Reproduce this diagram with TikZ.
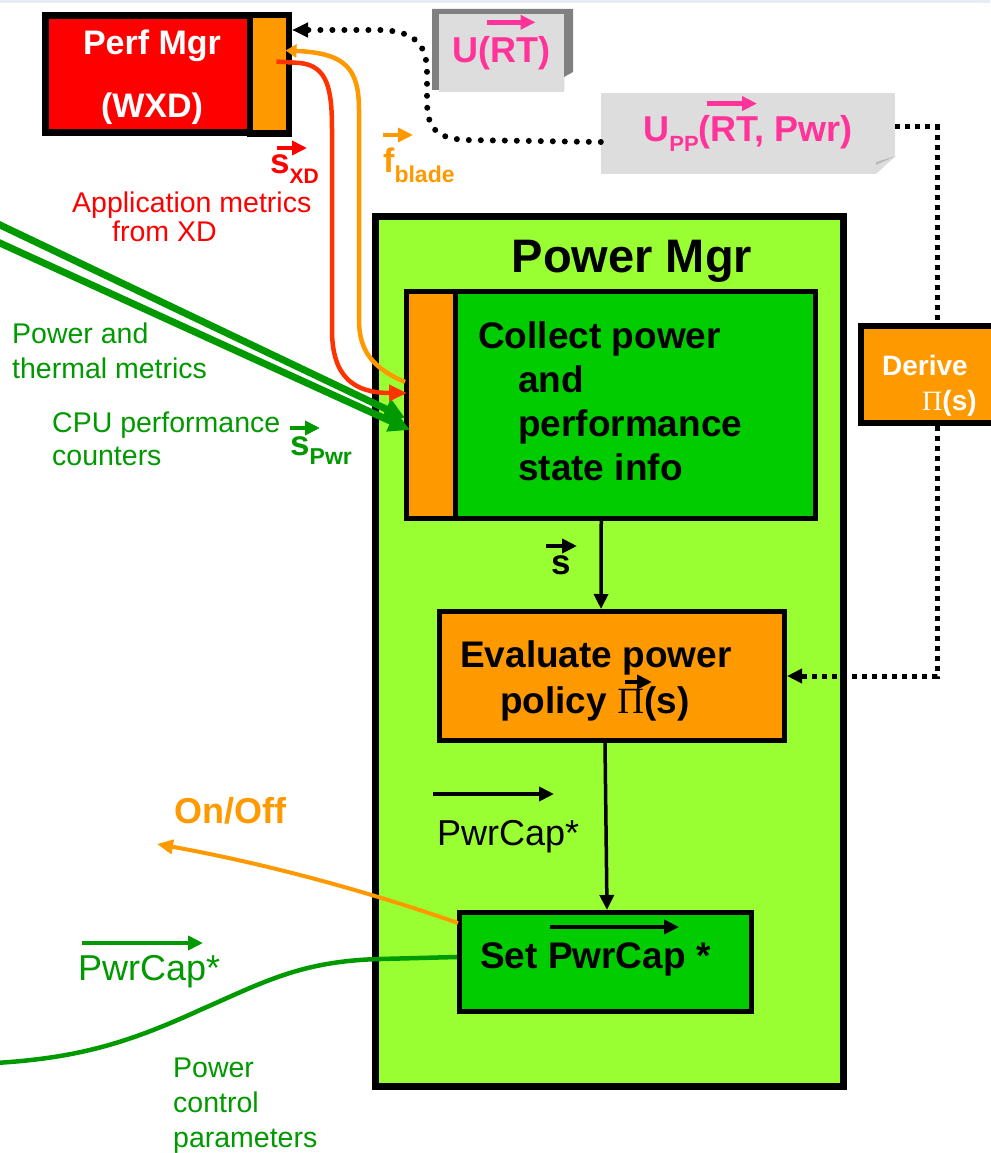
\documentclass[tikz,border=0pt]{standalone}
\usepackage{fontspec}
\setmainfont{Liberation Sans}
\newfontfamily\pifont{Liberation Serif}
\usetikzlibrary{arrows.meta}
\definecolor{perfred}{HTML}{FF0000}
\definecolor{xdred}{HTML}{FF3300}
\definecolor{mgrorange}{HTML}{FF9900}
\definecolor{mgrlime}{HTML}{99FF33}
\definecolor{boxgreen}{HTML}{00CC00}
\definecolor{metricgreen}{HTML}{009900}
\definecolor{utilpink}{HTML}{FF3399}
\definecolor{notegray}{HTML}{DDDDDD}
\definecolor{shadegray}{HTML}{808080}
\definecolor{slideedge}{HTML}{E8EAF4}
\begin{document}
\begin{tikzpicture}[x=1pt, y=-1pt, >={Triangle[length=15pt,width=14pt]},
    mgrbox/.style={draw, line width=7pt, inner sep=0pt},
    stage/.style={draw, line width=5pt, inner sep=0pt},
    boxtxt/.style={font=\fontsize{37}{44}\selectfont\bfseries, align=left, inner sep=0pt},
    note/.style={font=\fontsize{28.5}{35}\selectfont, align=left, inner sep=0pt},
    sym/.style={font=\bfseries, inner sep=0pt, anchor=base west},
    util/.style={fill=notegray, inner sep=0pt, text=utilpink, font=\fontsize{36}{36}\selectfont\bfseries},
    vec/.style={line width=4.5pt, ->},
    flow/.style={line width=3.5pt, ->},
    rounddots/.style={line width=6pt, line cap=round, dash pattern=on 0pt off 12pt},
    squaredots/.style={line width=5pt, dash pattern=on 5pt off 5pt}]
  % page and slide edge
  \fill[white] (0,0) rectangle (990,1153);
  \fill[slideedge] (0,0) rectangle (990,3);
  \useasboundingbox (0,0) rectangle (990,1153);

  % Perf Mgr
  \node[mgrbox, fill=perfred, minimum width=205pt, minimum height=117pt] (pm) at (148,74) {};
  \node[stage, line width=6pt, fill=mgrorange, minimum width=39pt, minimum height=118pt] (pmport) at (269.5,74.5) {};
  \node[anchor=north, align=center, inner sep=0pt, text=white,
        font=\fontsize{34}{63}\selectfont\bfseries] (pmtext) at (152,30) {Perf Mgr\\(WXD)};

  % utility functions
  \fill[shadegray] (432,9) -- (573,9) -- (573,72) -- (564,77) -- (564,90) -- (432,90) -- cycle;
  \node[util, minimum width=125pt, minimum height=78pt] (urt) at (501.5,53) {U(RT)};
  \node[util, minimum width=294pt, minimum height=81pt] (upp) at (748,133.5)
    {U\raisebox{-10pt}{\fontsize{22}{22}\selectfont PP}(RT, Pwr)};
  \fill[white] (875,175) -- (896,175) -- (896,156) -- cycle;
  \fill[gray!55] (896,156) -- (876,165) -- (876,162) -- cycle;
  \draw[vec, utilpink] ([shift={(-15,-40)}]urt.base) -- ++(49,0);
  \draw[vec, utilpink] ([shift={(-41,-38)}]upp.base) -- ++(50,0);

  % Power Mgr
  \node[mgrbox, fill=mgrlime, minimum width=468pt, minimum height=869.5pt] (pwrmgr) at (609.5,651.25) {};
  \node[anchor=base, inner sep=0pt, font=\fontsize{47}{47}\selectfont\bfseries] (pwrtitle) at (632,272) {Power Mgr};

  \node[stage, fill=mgrorange, minimum width=48.5pt, minimum height=227pt] (collectport) at (430.75,405) {};
  \node[stage, fill=boxgreen, minimum width=360.5pt, minimum height=227pt] (collect) at (635.25,405) {};
  \node[boxtxt, anchor=base west] (collecttxt) at (478,480)
    {Collect power\\\hspace*{40pt}and\\\hspace*{40pt}performance\\\hspace*{40pt}state info};

  \node[stage, fill=mgrorange, minimum width=345pt, minimum height=129pt] (evaluate) at (612,676) {};
  \node[boxtxt, anchor=base west, font=\fontsize{37}{46}\selectfont\bfseries] (evaltxt) at (460,713)
    {Evaluate power\\\hspace*{40pt}policy {\pifont\mdseries Π}(s)};
  \draw[vec] ([shift={(165,-31)}]evaltxt.base west) -- ++(27,0);

  \node[stage, fill=boxgreen, minimum width=292pt, minimum height=99pt] (setcap) at (605.5,962) {};
  \node[boxtxt, anchor=base west] (settxt) at (480,968) {Set PwrCap *};
  \draw[vec] ([shift={(70,-41)}]settxt.base west) -- ++(129,0);

  % Derive
  \node[mgrbox, line width=6pt, fill=mgrorange, minimum width=153pt, minimum height=97pt] (derive) at (937,374.5) {};
  \node[anchor=base west, align=left, inner sep=0pt, text=white,
        font=\fontsize{28}{35}\selectfont\bfseries] (derivetxt) at (882,410)
    {Derive\\\hspace*{40pt}{\pifont\mdseries Π}(s)};

  % labels
  \node[note, text=perfred, anchor=base west, font=\fontsize{28.5}{28.5}\selectfont] (appmetrics) at (72,241)
    {Application metrics\\\hspace*{40pt}from XD};
  \node[note, text=metricgreen, anchor=base west] (pwrmetrics) at (12,378) {Power and\\thermal metrics};
  \node[note, text=metricgreen, anchor=base west, font=\fontsize{28.5}{33}\selectfont] (cpumetrics) at (52,465)
    {CPU performance\\counters};
  \node[note, text=metricgreen, anchor=base west] (ctrlparams) at (173,1147) {Power\\control\\parameters};

  \node[sym, text=perfred] (sxd) at (270,173)
    {{\fontsize{35}{35}\selectfont s}\raisebox{-10pt}{\fontsize{21}{21}\selectfont XD}};
  \node[sym, text=mgrorange] (fblade) at (383,172)
    {{\fontsize{34}{34}\selectfont f}\raisebox{-10pt}{\fontsize{23}{23}\selectfont blade}};
  \node[sym, text=metricgreen] (spwr) at (290,455)
    {{\fontsize{35}{35}\selectfont s}\raisebox{-9pt}{\fontsize{23}{23}\selectfont Pwr}};
  \node[sym] (svec) at (551,574) {\fontsize{35}{35}\selectfont s};
  \draw[vec, perfred] ([shift={(7,-25)}]sxd.base west) -- ++(30,0);
  \draw[vec, mgrorange] ([shift={(0,-37)}]fblade.base west) -- ++(30,0);
  \draw[vec, metricgreen] ([shift={(0,-27)}]spwr.base west) -- ++(30,0);
  \draw[vec] ([shift={(-5,-28)}]svec.base west) -- ++(31,0);

  \node[anchor=base, inner sep=0pt, text=mgrorange, font=\fontsize{36}{36}\selectfont\bfseries] (onoff) at (230.5,823) {On/Off};
  \node[anchor=base west, inner sep=0pt, font=\fontsize{36}{36}\selectfont] (capint) at (437,845) {PwrCap*};
  \node[anchor=base west, inner sep=0pt, text=metricgreen, font=\fontsize{36}{36}\selectfont] (capext) at (78,980) {PwrCap*};
  \draw[vec] ([shift={(-4,-51)}]capint.base west) -- ++(121,0);
  \draw[vec, metricgreen] ([shift={(4,-37)}]capext.base west) -- ++(121,0);

  % free ends
  \coordinate (thermin) at (-5,222.6);
  \coordinate (cpuin) at (-5,240.8);
  \coordinate (onofftip) at (157,844);
  \coordinate (ctrlin) at (-5,1063);

  % metrics into the collector
  \draw[metricgreen, line width=7pt, -{Triangle[length=21pt,width=21pt]}] (thermin) -- ([shift={(1,13)}]collectport.west);
  \draw[metricgreen, line width=7pt, -{Triangle[length=21pt,width=21pt]}] (cpuin) -- ([shift={(6,25)}]collectport.west);
  \draw[xdred, line width=4.5pt, -{Triangle[length=18pt,width=16pt]}] ([shift={(7,-13)}]pmport.center) -- (300,63)
    .. controls (328,66) and (332,90) .. (332,130) -- (332,330)
    .. controls (332,378) and (355,393) .. ([shift={(3,-12)}]collectport.west);
  \draw[mgrorange, line width=4.5pt, -{Triangle[length=11pt,width=13pt]}] ([shift={(1,-23)}]collectport.west)
    .. controls (372,368) and (359,350) .. (359,320) -- (359,110)
    .. controls (359,68) and (345,53) .. ([shift={(16,-24)}]pmport.center);

  % utility feedback
  \draw[rounddots, -{Triangle[length=16pt,width=14pt]}] ([shift={(0,8.5)}]upp.west) -- (465,140)
    .. controls (433,138) and (427,125) .. (427,100) -- (427,72)
    .. controls (427,42) and (412,31) .. (380,30) -- ([shift={(0,-44.5)}]pmport.east);
  \draw[squaredots] ([shift={(0,-6.5)}]upp.east) -| (derive.north);
  \draw[squaredots, ->] (derive.south) |- (evaluate.east);

  % inside the power manager
  \draw[flow] ([shift={(-34,0)}]collect.south) -- ([shift={(-11,0)}]evaluate.north);
  \draw[flow] ([shift={(-7,0)}]evaluate.south) -- ([shift={(1.5,0)}]setcap.north);

  % outputs
  \draw[mgrorange, line width=4pt, -{Triangle[length=16pt,width=14pt]}] ([shift={(1,-39)}]setcap.west)
    .. controls (358,888) and (257,862) .. (onofftip);
  \draw[metricgreen, line width=4.5pt] ([shift={(0,-5)}]setcap.west) -- (380,959)
    .. controls (300,961) and (262,983) .. (200,1010)
    .. controls (130,1042) and (80,1058) .. (ctrlin);
\end{tikzpicture}
\end{document}
